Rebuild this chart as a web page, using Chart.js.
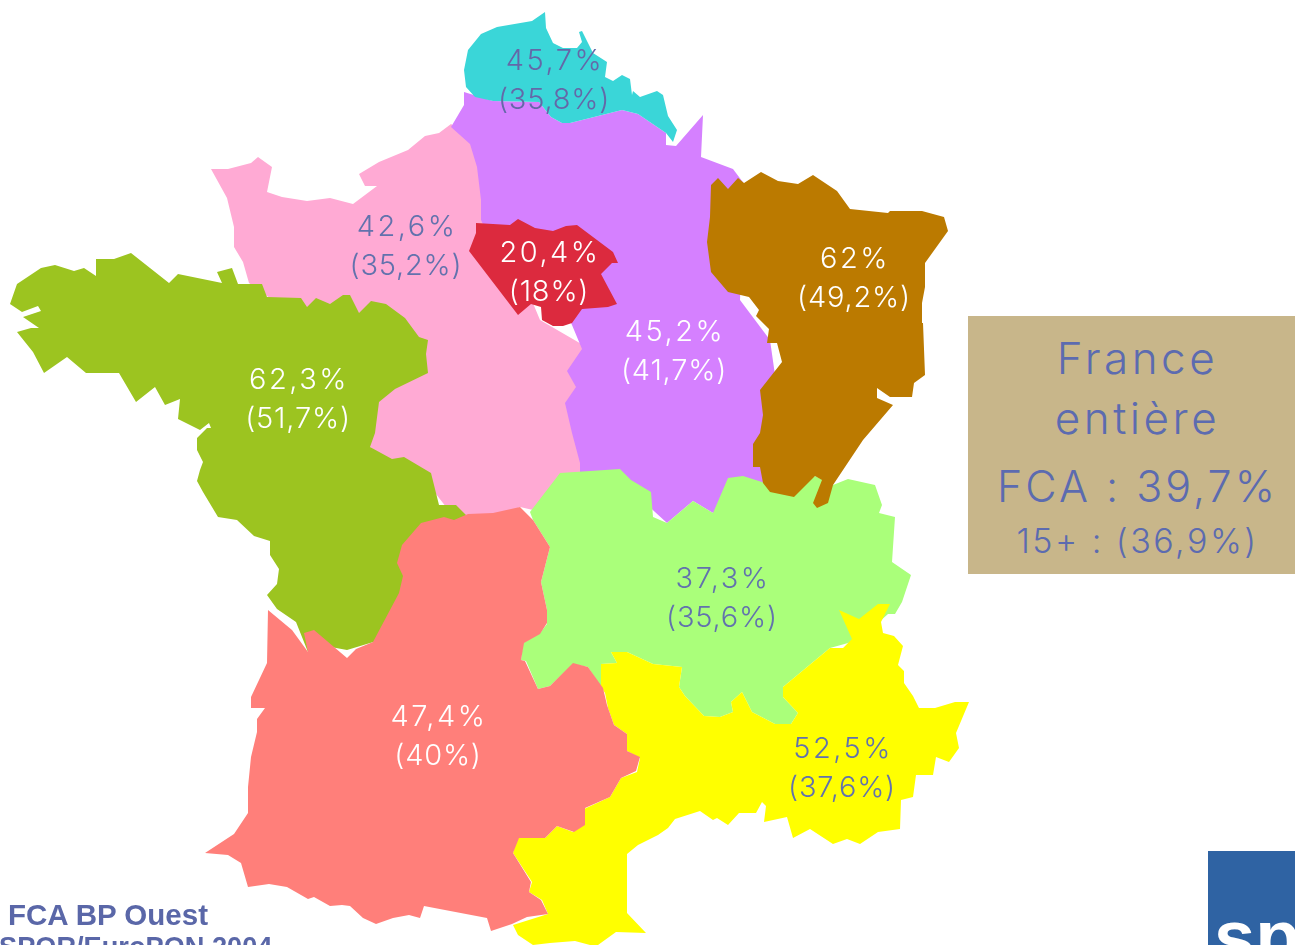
<!DOCTYPE html>
<html>
<head>
<meta charset="utf-8">
<title>FCA BP Ouest</title>
<script src="https://cdn.jsdelivr.net/npm/chart.js@4"></script>
<style>
  html, body { margin: 0; padding: 0; background: #fff; overflow: hidden; }
  #wrap { position: relative; width: 1295px; height: 945px; overflow: hidden; }
  #chart { display: block; }
  .box { position: absolute; left: 968px; top: 316px; width: 327px; height: 258px; background: #c8b68a; color: #5c6bb0; font-family: Inter, sans-serif; font-weight: 300; text-align: center; }
  .box div { position: absolute; left: 6px; width: 100%; white-space: nowrap; line-height: 1; }
  .foot { position: absolute; font-family: "Liberation Sans", sans-serif; font-weight: bold; color: #5a67a8; white-space: nowrap; line-height: 1; }
  .logo { position: absolute; left: 1208px; top: 851px; width: 87px; height: 94px; background: #2f63a3; overflow: hidden; }
  .logo span { position: absolute; left: 6px; top: 49px; font: bold 74px "Liberation Sans", sans-serif; color: #fff; line-height: 1; }
</style>
</head>
<body>
<div id="wrap">
  <canvas id="chart" width="1295" height="945"></canvas>
  <div class="box">
    <div style="top:20px;font-size:44px;letter-spacing:3.5px">France</div>
    <div style="top:80px;font-size:44px;letter-spacing:3.5px">entière</div>
    <div style="top:149px;font-size:43px;letter-spacing:3px">FCA : 39,7%</div>
    <div style="top:208px;font-size:34px;letter-spacing:2.5px">15+ : (36,9%)</div>
  </div>
  <div class="foot" style="left:8px;top:900px;font-size:29.5px">FCA BP Ouest</div>
  <div class="foot" style="left:-1px;top:933px;font-size:27.2px">SPOR/EuroPON 2004</div>
  <div class="logo"><span>sp</span></div>
</div>
<script>
// values
var regionNames = ['Nord', 'Ile-de-France', 'Ouest Paris', 'Est Paris', 'Est', 'Ouest', 'Centre-Est', 'Sud-Ouest', 'Sud-Est'];
var fcaValues = ['45,7%', '20,4%', '42,6%', '45,2%', '62%', '62,3%', '37,3%', '47,4%', '52,5%'];
var pop15Values = ['(35,8%)', '(18%)', '(35,2%)', '(41,7%)', '(49,2%)', '(51,7%)', '(35,6%)', '(40%)', '(37,6%)'];

// region outlines, traced by hand
var outlineNord = [[545,12],[532,21],[497,27],[481,34],[468,50],[464,70],[466,87],[475,97],[493,101],[539,102],[551,117],[562,123],[570,123],[622,110],[638,114],[666,133],[673,142],[677,130],[668,116],[663,95],[657,91],[640,97],[633,91],[632,95],[630,79],[622,75],[613,81],[605,77],[607,62],[593,53],[582,31],[579,32],[582,42],[577,48],[563,48],[553,43],[546,28]];
var outlineIdf = [[476,223],[510,225],[518,219],[535,228],[553,231],[566,226],[577,225],[613,252],[618,263],[612,263],[601,274],[617,304],[608,307],[582,309],[572,323],[563,326],[553,326],[542,320],[541,307],[531,304],[518,315],[469,251],[476,233]];
var outlinePink = [[211,169],[228,169],[251,163],[258,157],[272,167],[267,192],[282,197],[307,201],[330,198],[353,204],[377,186],[365,186],[359,174],[379,162],[408,150],[425,136],[439,133],[451,124],[475,140],[490,200],[540,320],[590,349],[590,470],[533,510],[520,507],[480,525],[450,512],[425,480],[395,465],[360,440],[365,400],[410,340],[300,320],[249,283],[243,262],[234,247],[234,227],[227,198]];
var outlinePurple = [[464,92],[493,101],[539,102],[551,117],[562,123],[570,123],[622,110],[638,114],[666,133],[666,145],[676,146],[703,115],[701,157],[733,169],[745,185],[740,300],[770,340],[790,480],[760,500],[713,513],[693,501],[667,523],[655,512],[620,480],[580,480],[580,463],[572,433],[565,403],[576,387],[567,371],[582,349],[572,325],[560,300],[500,260],[481,220],[481,200],[477,167],[470,144],[451,127],[464,105]];
var outlineEst = [[718,178],[711,185],[710,217],[707,242],[711,272],[728,292],[749,297],[759,310],[756,316],[769,329],[767,343],[777,343],[782,362],[760,390],[763,415],[760,433],[753,444],[753,467],[760,467],[763,483],[770,492],[794,497],[815,476],[822,480],[813,503],[817,508],[828,503],[833,485],[863,440],[893,405],[877,398],[877,388],[890,397],[912,397],[914,383],[925,375],[923,323],[922,303],[925,287],[925,263],[948,231],[944,217],[922,211],[890,211],[888,213],[850,209],[837,191],[813,175],[798,184],[778,181],[761,172],[744,183],[738,178],[728,189]];
var outlineOuest = [[10,304],[17,284],[41,268],[55,265],[74,271],[84,268],[96,276],[96,259],[114,259],[131,253],[169,283],[178,274],[222,283],[217,272],[232,268],[238,284],[262,284],[267,297],[301,298],[307,307],[316,298],[330,304],[343,295],[350,295],[359,313],[371,301],[386,304],[405,318],[419,337],[428,340],[426,354],[428,373],[395,389],[379,402],[375,433],[370,447],[392,459],[404,457],[431,473],[439,505],[456,505],[466,515],[440,560],[380,640],[347,650],[320,645],[308,652],[296,622],[277,609],[267,595],[277,584],[279,569],[270,555],[270,541],[254,536],[237,520],[218,517],[203,492],[197,481],[200,470],[203,462],[197,450],[197,438],[207,428],[211,428],[209,423],[200,430],[178,419],[180,399],[165,405],[155,387],[136,402],[119,373],[86,373],[67,357],[44,373],[33,352],[17,332],[31,328],[39,328],[23,317],[41,311],[38,306],[22,312]];
var outlineCentreEst = [[560,473],[620,469],[631,480],[651,492],[653,517],[667,523],[693,501],[713,513],[728,478],[743,476],[762,482],[790,492],[815,476],[833,485],[848,479],[875,485],[882,505],[879,513],[895,517],[892,562],[911,575],[902,602],[895,614],[888,614],[859,640],[830,648],[783,687],[783,697],[798,713],[791,724],[775,724],[752,712],[742,692],[731,702],[733,712],[720,717],[704,716],[685,696],[679,687],[682,667],[653,664],[627,652],[611,652],[617,663],[601,664],[601,687],[588,667],[573,664],[550,686],[538,689],[526,661],[521,660],[523,643],[540,633],[547,624],[547,610],[541,582],[550,547],[533,520],[530,512]];
var outlineSudOuest = [[520,507],[493,513],[468,514],[454,520],[444,517],[421,523],[402,545],[397,563],[403,576],[399,593],[373,642],[356,649],[347,658],[314,630],[304,633],[308,652],[292,630],[268,610],[267,663],[251,697],[251,708],[265,708],[257,719],[257,732],[251,757],[248,787],[248,813],[234,834],[205,853],[228,855],[241,863],[248,887],[269,884],[287,887],[308,899],[314,897],[330,906],[342,905],[350,906],[363,918],[376,924],[393,918],[409,915],[420,918],[424,906],[487,918],[491,931],[512,924],[527,917],[548,914],[541,900],[529,892],[531,882],[513,853],[519,838],[545,838],[557,826],[574,832],[585,825],[585,808],[610,797],[621,778],[636,771],[640,757],[627,751],[627,734],[614,725],[607,705],[603,688],[588,667],[573,663],[550,686],[538,689],[525,661],[521,660],[524,643],[540,634],[547,623],[547,610],[541,582],[550,547],[533,520]];
var outlineSudEst = [[513,925],[518,935],[533,945],[550,943],[575,941],[590,945],[598,945],[616,932],[646,933],[627,913],[627,854],[638,845],[658,835],[668,828],[675,819],[700,811],[713,820],[717,818],[728,825],[739,813],[756,813],[762,802],[766,806],[764,822],[787,817],[793,838],[810,829],[833,844],[847,839],[860,844],[878,832],[900,829],[901,800],[913,797],[916,775],[933,775],[936,757],[949,762],[959,748],[956,733],[969,702],[955,702],[935,708],[919,708],[913,696],[904,683],[904,671],[898,665],[903,646],[894,636],[883,633],[881,622],[890,604],[878,604],[859,619],[839,610],[852,639],[843,648],[830,648],[783,687],[783,697],[798,713],[791,724],[775,724],[752,712],[742,692],[731,702],[733,712],[720,717],[704,716],[685,696],[679,687],[682,667],[653,664],[627,652],[611,652],[617,663],[601,664],[601,687],[605,693],[608,708],[614,725],[627,734],[627,751],[640,758],[637,772],[621,778],[610,797],[584,809],[584,823],[573,832],[557,826],[545,838],[517,838],[513,853],[532,882],[529,892],[542,900],[548,914]];

var labelX = [555, 550, 407, 675, 855, 299, 723, 439, 843];
var labelY = [61, 253, 227, 332, 259, 380, 579, 717, 749];
var labelColors = ['#6468a8', '#fff', '#6272ad', '#fff', '#fff', '#fff', '#6272ad', '#fff', '#6272ad'];

function region(name, outline, color, order) {
    return {
        label: name,
        data: outline.map(function (p) { return { x: p[0], y: p[1] }; }),
        showLine: true,
        fill: 'shape',
        backgroundColor: color,
        borderWidth: 0,
        pointRadius: 0,
        tension: 0,
        order: order
    };
}

var labelsPlugin = {
    id: 'regionLabels',
    afterDatasetsDraw: function (chart) {
        var ctx = chart.ctx;
        var sx = chart.scales.x, sy = chart.scales.y;
        ctx.save();
        ctx.font = '300 29px Inter';
        ctx.textAlign = 'center';
        ctx.textBaseline = 'middle';
        fcaValues.forEach(function (v, i) {
            ctx.fillStyle = labelColors[i];
            ctx.letterSpacing = '2.5px';
            ctx.fillText(v, sx.getPixelForValue(labelX[i]), sy.getPixelForValue(labelY[i]));
            ctx.letterSpacing = '0.8px';
            ctx.fillText(pop15Values[i], sx.getPixelForValue(labelX[i] - 1), sy.getPixelForValue(labelY[i] + 39));
        });
        ctx.restore();
    }
};

new Chart(document.getElementById('chart'), {
    type: 'scatter',
    data: {
        datasets: [
            region('Ouest Paris', outlinePink, '#ffaad4', 9),
            region('Est Paris', outlinePurple, '#d580ff', 8),
            region('Nord', outlineNord, '#3ad6d8', 7),
            region('Ile-de-France', outlineIdf, '#dc2a3e', 6),
            region('Ouest', outlineOuest, '#9cc420', 5),
            region('Centre-Est', outlineCentreEst, '#aaff7a', 4),
            region('Est', outlineEst, '#bb7a00', 3),
            region('Sud-Est', outlineSudEst, '#ffff00', 2),
            region('Sud-Ouest', outlineSudOuest, '#ff7f7a', 1)
        ]
    },
    options: {
        responsive: false,
        animation: false,
        layout: { padding: 0 },
        plugins: { legend: { display: false }, tooltip: { enabled: false } },
        scales: {
            x: { type: 'linear', display: false, min: 0, max: 1295 },
            y: { type: 'linear', display: false, min: 0, max: 945, reverse: true }
        }
    },
    plugins: [labelsPlugin]
});
</script>
</body>
</html>
